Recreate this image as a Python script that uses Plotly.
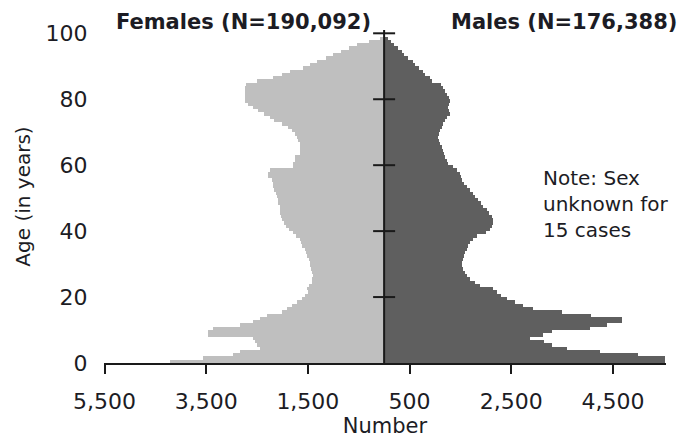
import plotly.graph_objects as go

# ---- data ----
ages = list(range(0, 99))

females = [4210, 3560, 2970, 2830, 2440, 2500, 2540, 2580, 3460, 3460,
           3360, 2830, 2580, 2440, 2300, 2010, 1910, 1810, 1710, 1610,
           1550, 1500, 1510, 1470, 1420, 1410, 1400, 1410, 1440, 1460,
           1460, 1480, 1510, 1540, 1560, 1610, 1630, 1650, 1730, 1800,
           1880, 1930, 1960, 2000, 2030, 2050, 2040, 2050, 2080, 2090,
           2110, 2130, 2160, 2180, 2190, 2200, 2280, 2280, 2240, 1800,
           1790, 1760, 1750, 1660, 1650, 1650, 1660, 1690, 1720, 1760,
           1810, 1900, 2000, 2160, 2250, 2370, 2480, 2580, 2680, 2730,
           2740, 2740, 2740, 2740, 2720, 2500, 2180, 2000, 1850, 1600,
           1450, 1320, 1150, 1000, 850, 700, 530, 300, 80]

males = [5530, 5530, 4990, 4250, 3600, 3300, 3150, 2870, 3120, 3300,
         4050, 4380, 4680, 4680, 4060, 3500, 2930, 2730, 2580, 2420,
         2300, 2220, 2140, 1890, 1790, 1690, 1640, 1590, 1550, 1530,
         1540, 1550, 1570, 1590, 1630, 1650, 1690, 1750, 1830, 2000,
         2090, 2120, 2140, 2150, 2120, 2070, 2030, 1950, 1900, 1850,
         1790, 1750, 1690, 1630, 1580, 1530, 1520, 1500, 1440, 1350,
         1260, 1230, 1200, 1180, 1160, 1130, 1100, 1080, 1060, 1080,
         1100, 1140, 1160, 1200, 1240, 1290, 1280, 1260, 1280, 1300,
         1280, 1240, 1190, 1160, 1110, 950, 900, 800, 760, 680,
         600, 560, 470, 400, 350, 270, 200, 140, 80]

x_tick_vals = [-5500, -3500, -1500, 500, 2500, 4500]
x_tick_text = ["5,500", "3,500", "1,500", "500", "2,500", "4,500"]
y_tick_vals = [0, 20, 40, 60, 80, 100]
y_tick_text = ["0", "20", "40", "60", "80", "100"]

female_title = "Females (N=190,092)"
male_title = "Males (N=176,388)"
note_text = "Note: Sex<br>unknown for<br>15 cases"
x_title = "Number"
y_title = "Age (in years)"

FONT = "DejaVu Sans"
TXT = "#1c1c24"
AX = "#1a1a1a"

fig = go.Figure()
fig.add_trace(go.Bar(
    y=[a + 0.5 for a in ages], x=[-v for v in females], orientation="h",
    width=1, marker=dict(color="#bfbfbf", line=dict(width=0)),
    name="Females", customdata=females,
    hovertemplate="Age %{y}<br>Females: %{customdata}<extra></extra>"))
fig.add_trace(go.Bar(
    y=[a + 0.5 for a in ages], x=males, orientation="h",
    width=1, marker=dict(color="#5f5f5f", line=dict(width=0)),
    name="Males",
    hovertemplate="Age %{y}<br>Males: %{x}<extra></extra>"))

shapes = [dict(type="line", xref="x", yref="y", x0=0, x1=0, y0=0, y1=101,
               line=dict(color=AX, width=2))]
for t in y_tick_vals[1:]:
    shapes.append(dict(type="line", xref="x", yref="y", xsizemode="pixel",
                       xanchor=0, x0=-11, x1=11, y0=t, y1=t,
                       line=dict(color=AX, width=2)))

# page body has an 8px margin, so the figure is sized 680x437 to fill 688x445
fig.update_layout(
    width=680, height=437,
    margin=dict(l=96, r=22, t=22, b=82),
    paper_bgcolor="white", plot_bgcolor="white",
    barmode="overlay", bargap=0, showlegend=False,
    font=dict(family=FONT, color=TXT),
    shapes=shapes,
    xaxis=dict(range=[-5510, 5545], tickvals=x_tick_vals, ticktext=x_tick_text,
               ticks="outside", ticklen=9, tickwidth=2, tickcolor=AX,
               ticklabelstandoff=9,
               showline=True, linecolor=AX, linewidth=2,
               showgrid=False, zeroline=False, automargin=False,
               tickfont=dict(family=FONT, size=22, color=TXT),
               title=dict(text=x_title, font=dict(family=FONT, size=21, color=TXT),
                          standoff=2)),
    yaxis=dict(range=[0, 101], tickvals=y_tick_vals, ticktext=y_tick_text,
               ticks="outside", ticklen=11, tickcolor="rgba(0,0,0,0)",
               showline=False, showgrid=False, zeroline=False, automargin=False,
               tickfont=dict(family=FONT, size=22, color=TXT),
               title=dict(text=y_title, font=dict(family=FONT, size=20, color=TXT),
                          standoff=9)),
    annotations=[
        dict(text="<b>" + female_title + "</b>", xref="paper", yref="paper",
             x=0.249, y=1.024, xanchor="center", yanchor="middle",
             showarrow=False, font=dict(family=FONT, size=21, color=TXT)),
        dict(text="<b>" + male_title + "</b>", xref="paper", yref="paper",
             x=0.818, y=1.024, xanchor="center", yanchor="middle",
             showarrow=False, font=dict(family=FONT, size=21, color=TXT)),
        dict(text=note_text, xref="paper", yref="paper",
             x=0.778, y=0.478, xanchor="left", yanchor="middle", align="left",
             showarrow=False, font=dict(family=FONT, size=20, color=TXT)),
    ],
)

fig.write_html("out.html")
